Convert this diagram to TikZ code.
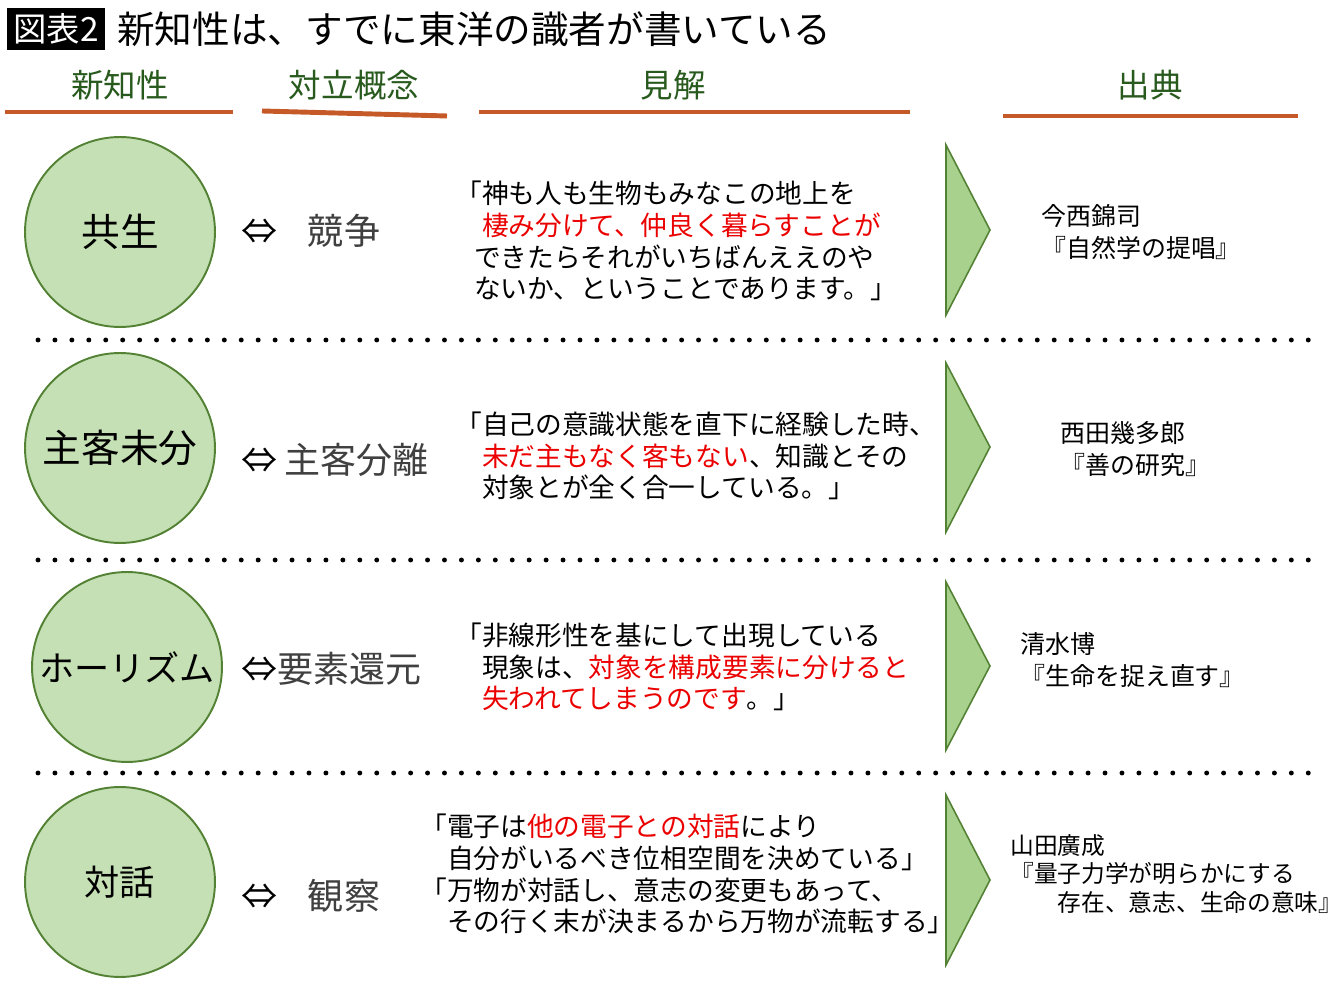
\documentclass[tikz,border=0pt]{standalone}
\usepackage{fontspec}
\setmainfont{Noto Sans CJK JP}
\usetikzlibrary{positioning}
\definecolor{leafgreen}{RGB}{197,224,180}
\definecolor{darkleaf}{RGB}{84,130,53}
\definecolor{arrowgreen}{RGB}{169,209,142}
\definecolor{headgreen}{RGB}{40,90,30}
\definecolor{ruleorange}{RGB}{197,90,40}
\definecolor{quotered}{RGB}{235,0,0}
\definecolor{oppgray}{RGB}{64,64,64}

\begin{document}
\begin{tikzpicture}[x=0.02cm, y=-0.02cm,
    idea/.style={circle, draw=darkleaf, line width=1.1pt, fill=leafgreen, minimum size=3.8cm, inner sep=0pt, font=\fontsize{22}{26}\selectfont},
    opposite/.style={anchor=west, inner sep=0pt, font=\fontsize{20.5}{24}\selectfont},
    quote/.style={anchor=west, align=left, inner sep=0pt, font=\fontsize{15.2}{18.1}\selectfont},
    source/.style={anchor=west, align=left, inner sep=0pt, font=\fontsize{14.2}{18.1}\selectfont},
    head/.style={text=headgreen, inner sep=0pt, font=\fontsize{18.5}{22}\selectfont},
    rule/.style={draw=ruleorange, line width=2.8pt},
    dots/.style={line width=2.8pt, line cap=round, dash pattern=on 0pt off 9.64pt},
    pointer/.style={draw=darkleaf, line width=0.9pt, fill=arrowgreen}]
    \useasboundingbox (0,0) rectangle (1340,982);
    % title
    \node [fill=black, text=white, minimum width=1.96cm, minimum height=0.84cm, inner sep=0pt, font=\fontsize{19}{22}\selectfont] (tag) at (56,29) {図表2};
    \node [anchor=west, inner sep=0pt, font=\fontsize{21.4}{25}\selectfont] (title) at (117,29) {新知性は、すでに東洋の識者が書いている};
    % column heads
    \node [head] (hnew) at (120,85) {新知性};
    \node [head] (hopp) at (354,85) {対立概念};
    \node [head] (hview) at (673,85) {見解};
    \node [head] (hsrc) at (1150,85) {出典};
    \draw [rule] (5,112) -- (233,112);
    \draw [rule] (262,111) -- (447,116);
    \draw [rule] (479,112) -- (910,112);
    \draw [rule] (1003,116) -- (1298,116);
    % new ideas
    \node [idea] (kyosei) at (120,232) {共生};
    \node [idea] (shukaku) at (120,448) {主客未分};
    \node [idea, font=\fontsize{20}{24}\selectfont] (holism) at (127,667) {ホーリズム};
    \node [idea, font=\fontsize{20}{24}\selectfont] (taiwa) at (120,882) {対話};
    % opposite concepts
    \node [opposite] (kyoso) at (241,231) {⇔\hspace{0.85em}{\color{oppgray}競争}};
    \node [opposite] (bunri) at (241,460) {⇔\hspace{0.2em}{\color{oppgray}主客分離}};
    \node [opposite] (kangen) at (241,669) {⇔{\color{oppgray}要素還元}};
    \node [opposite] (kansatsu) at (241,896) {⇔\hspace{0.85em}{\color{oppgray}観察}};
    % views
    \node [quote] (q1) at (455,241) {「神も人も生物もみなこの地上を\\
        \hspace*{1em}{\color{quotered}棲み分けて、仲良く暮らすことが}\\
        \hspace*{0.7em}できたらそれがいちばんええのや\\
        \hspace*{0.7em}ないか、ということであります。」};
    \node [quote] (q2) at (455,456) {「自己の意識状態を直下に経験した時、\\
        \hspace*{1em}{\color{quotered}未だ主もなく客もない}、知識とその\\
        \hspace*{1em}対象とが全く合一している。」};
    \node [quote] (q3) at (455,667) {「非線形性を基にして出現している\\
        \hspace*{1em}現象は、{\color{quotered}対象を構成要素に分けると}\\
        \hspace*{1em}{\color{quotered}失われてしまうのです}。」};
    \node [quote] (q4) at (420,874) {「電子は{\color{quotered}他の電子との対話}により\\
        \hspace*{1em}自分がいるべき位相空間を決めている」\\
        「万物が対話し、意志の変更もあって、\\
        \hspace*{1em}その行く末が決まるから万物が流転する」};
    % arrows
    \draw [pointer] (946,145) -- (990,230) -- (946,315) -- cycle;
    \draw [pointer] (946,363) -- (990,447) -- (946,532) -- cycle;
    \draw [pointer] (946,582) -- (990,666) -- (946,750) -- cycle;
    \draw [pointer] (946,795) -- (990,880) -- (946,965) -- cycle;
    % sources
    \node [source] (s1) at (1041,232) {今西錦司\\『自然学の提唱』};
    \node [source] (s2) at (1060,449) {西田幾多郎\\『善の研究』};
    \node [source] (s3) at (1020,660) {清水博\\『生命を捉え直す』};
    \node [source, font=\fontsize{13.5}{16.4}\selectfont] (s4) at (1010,874) {山田廣成\\『量子力学が明らかにする\\\hspace*{2em}存在、意志、生命の意味』};
    % separators
    \draw [dots] (38,340) -- (1312,340);
    \draw [dots] (38,560) -- (1312,560);
    \draw [dots] (38,773) -- (1312,773);
\end{tikzpicture}
\end{document}
